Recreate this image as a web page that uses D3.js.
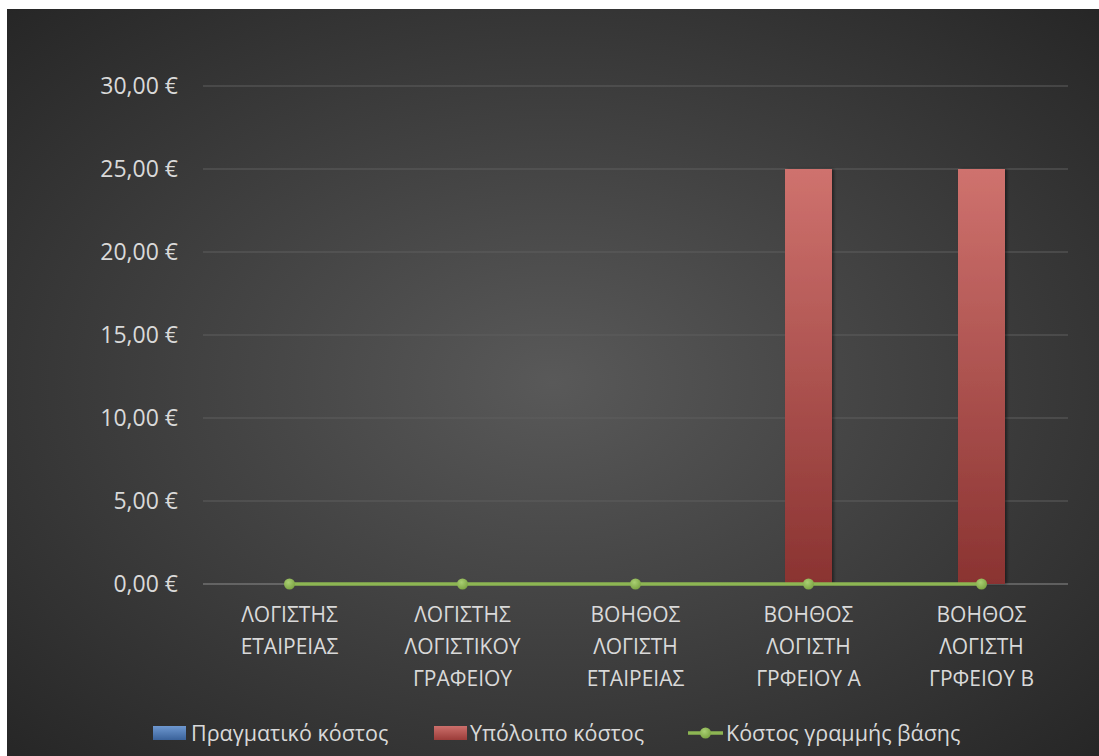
<!DOCTYPE html>
<html>
<head>
<meta charset="utf-8">
<script src="https://cdn.jsdelivr.net/npm/d3@7"></script>
<style>
  html, body { margin: 0; padding: 0; background: #ffffff; }
  svg { display: block; }
  text { font-family: "Open Sans", "Noto Sans", sans-serif; }
</style>
</head>
<body>
<svg id="chart" width="1099" height="756"></svg>
<script>
// Categories (line breaks as shown on the axis)
const categories = [
  "ΛΟΓΙΣΤΗΣ\nΕΤΑΙΡΕΙΑΣ",
  "ΛΟΓΙΣΤΗΣ\nΛΟΓΙΣΤΙΚΟΥ\nΓΡΑΦΕΙΟΥ",
  "ΒΟΗΘΟΣ\nΛΟΓΙΣΤΗ\nΕΤΑΙΡΕΙΑΣ",
  "ΒΟΗΘΟΣ\nΛΟΓΙΣΤΗ\nΓΡΦΕΙΟΥ Α",
  "ΒΟΗΘΟΣ\nΛΟΓΙΣΤΗ\nΓΡΦΕΙΟΥ Β"
];
const actualCost    = [0, 0, 0, 0, 0];
const remainingCost = [0, 0, 0, 25, 25];
const baselineCost  = [0, 0, 0, 0, 0];
const yTicks = [0, 5, 10, 15, 20, 25, 30];
const seriesNames = ["Πραγματικό κόστος", "Υπόλοιπο κόστος", "Κόστος γραμμής βάσης"];

const svg = d3.select("#chart");
const W = 1099, H = 756;
const frame = { x: 7, y: 9, w: W - 7, h: H - 9 };
const plot = { left: 203, right: 1068, top: 86, bottom: 584 };

const defs = svg.append("defs");
const bg = defs.append("radialGradient").attr("id", "bgGrad")
  .attr("cx", "50%").attr("cy", "50%").attr("r", "71%");
bg.append("stop").attr("offset", "0%").attr("stop-color", "#595959");
bg.append("stop").attr("offset", "100%").attr("stop-color", "#262626");

const redGrad = defs.append("linearGradient").attr("id", "redGrad")
  .attr("x1", 0).attr("y1", 0).attr("x2", 0).attr("y2", 1);
redGrad.append("stop").attr("offset", "0%").attr("stop-color", "#cf726e");
redGrad.append("stop").attr("offset", "100%").attr("stop-color", "#8a3331");

const blueGrad = defs.append("linearGradient").attr("id", "blueGrad")
  .attr("x1", 0).attr("y1", 0).attr("x2", 0).attr("y2", 1);
blueGrad.append("stop").attr("offset", "0%").attr("stop-color", "#6e98d0");
blueGrad.append("stop").attr("offset", "100%").attr("stop-color", "#3a629a");

const legRed = defs.append("linearGradient").attr("id", "legRed")
  .attr("x1", 0).attr("y1", 0).attr("x2", 0).attr("y2", 1);
legRed.append("stop").attr("offset", "0%").attr("stop-color", "#cc6f6b");
legRed.append("stop").attr("offset", "100%").attr("stop-color", "#9b3c39");

const dotGrad = defs.append("radialGradient").attr("id", "dotGrad")
  .attr("cx", "40%").attr("cy", "35%").attr("r", "65%");
dotGrad.append("stop").attr("offset", "0%").attr("stop-color", "#a9cf72");
dotGrad.append("stop").attr("offset", "100%").attr("stop-color", "#7ea645");

const shadow = defs.append("filter").attr("id", "barShadow")
  .attr("x", "-20%").attr("y", "-5%").attr("width", "150%").attr("height", "110%");
shadow.append("feDropShadow").attr("dx", 2).attr("dy", 0).attr("stdDeviation", 1.5)
  .attr("flood-color", "#000").attr("flood-opacity", 0.45);

// chart background
svg.append("rect").attr("x", frame.x).attr("y", frame.y)
  .attr("width", frame.w).attr("height", frame.h).attr("fill", "url(#bgGrad)");

const x = d3.scaleBand().domain(categories).range([plot.left, plot.right]).paddingInner(0).paddingOuter(0);
const y = d3.scaleLinear().domain([0, 30]).range([plot.bottom, plot.top]);
const fmt = v => d3.format(".2f")(v).replace(".", ",") + " €";

// gridlines
svg.append("g").selectAll("line").data(yTicks.filter(t => t > 0)).join("line")
  .attr("x1", plot.left).attr("x2", plot.right)
  .attr("y1", d => y(d)).attr("y2", d => y(d))
  .attr("stroke", "#5e5e5e").attr("stroke-width", 1);

// y axis labels
const yAxis = svg.append("g").attr("transform", `translate(${plot.left},0)`)
  .call(d3.axisLeft(y).tickValues(yTicks).tickFormat(fmt).tickSize(0).tickPadding(25));
yAxis.select(".domain").remove();
yAxis.selectAll("text").attr("fill", "#d9d9d9").attr("font-size", 23)
  .attr("font-family", "'Open Sans', 'Noto Sans', sans-serif");

// x axis baseline
svg.append("line").attr("x1", plot.left).attr("x2", plot.right)
  .attr("y1", y(0)).attr("y2", y(0)).attr("stroke", "#8c8c8c").attr("stroke-width", 1);

// stacked bars
const barW = 47;
const stacks = categories.map((c, i) => ({ c, a: actualCost[i], r: remainingCost[i] }));
const barG = svg.append("g").attr("filter", "url(#barShadow)");
barG.selectAll("rect.actual").data(stacks.filter(d => d.a > 0)).join("rect")
  .attr("class", "actual")
  .attr("x", d => x(d.c) + x.bandwidth() / 2 - barW / 2).attr("width", barW)
  .attr("y", d => y(d.a)).attr("height", d => y(0) - y(d.a))
  .attr("fill", "url(#blueGrad)");
barG.selectAll("rect.remaining").data(stacks.filter(d => d.r > 0)).join("rect")
  .attr("class", "remaining")
  .attr("x", d => x(d.c) + x.bandwidth() / 2 - barW / 2).attr("width", barW)
  .attr("y", d => y(d.a + d.r)).attr("height", d => y(d.a) - y(d.a + d.r))
  .attr("fill", "url(#redGrad)");

// baseline cost line
const pts = categories.map((c, i) => [x(c) + x.bandwidth() / 2, y(baselineCost[i])]);
svg.append("path").attr("d", d3.line()(pts))
  .attr("fill", "none").attr("stroke", "#8db653").attr("stroke-width", 3.5);
svg.append("g").selectAll("circle").data(pts).join("circle")
  .attr("cx", d => d[0]).attr("cy", d => d[1]).attr("r", 5.5)
  .attr("fill", "url(#dotGrad)");

// category labels
const catG = svg.append("g");
categories.forEach(c => {
  const t = catG.append("text")
    .attr("x", x(c) + x.bandwidth() / 2).attr("y", 622)
    .attr("text-anchor", "middle").attr("fill", "#d9d9d9").attr("font-size", 21);
  c.split("\n").forEach((line, k) => {
    t.append("tspan").attr("x", x(c) + x.bandwidth() / 2).attr("dy", k === 0 ? 0 : 32).text(line);
  });
});

// legend
const legY = 733;
const leg = svg.append("g");
const legItems = [
  { name: seriesNames[0], sx: 153, tx: 191, kind: "blue" },
  { name: seriesNames[1], sx: 434, tx: 470, kind: "red" },
  { name: seriesNames[2], sx: 688, tx: 726, kind: "line" }
];
legItems.forEach(it => {
  if (it.kind === "line") {
    leg.append("line").attr("x1", it.sx).attr("x2", it.sx + 35)
      .attr("y1", legY).attr("y2", legY).attr("stroke", "#8db653").attr("stroke-width", 3.5);
    leg.append("circle").attr("cx", it.sx + 17.5).attr("cy", legY).attr("r", 5.5).attr("fill", "url(#dotGrad)");
  } else {
    leg.append("rect").attr("x", it.sx).attr("y", legY - 7).attr("width", 33).attr("height", 14)
      .attr("fill", it.kind === "blue" ? "url(#blueGrad)" : "url(#legRed)");
  }
  leg.append("text").attr("x", it.tx).attr("y", legY).attr("dy", "0.35em")
    .attr("fill", "#d9d9d9").attr("font-size", 21.5).text(it.name);
});
</script>
</body>
</html>
